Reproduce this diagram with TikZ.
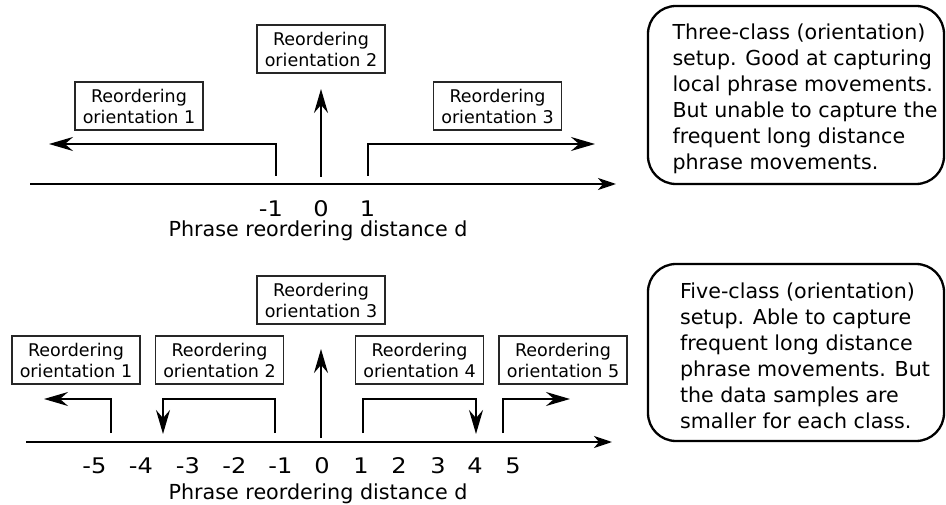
\documentclass[tikz,border=0pt]{standalone}
\usepackage{fontspec}
\setmainfont{DejaVu Sans}
\newfontfamily\axisnumfont[FakeStretch=1.12]{DejaVu Sans}
\usetikzlibrary{arrows.meta}
\begin{document}
\begin{tikzpicture}[x=1pt,y=-1pt,
  lbl/.style={draw=black!85,line width=1.3pt,minimum width=128pt,minimum height=48pt,
    inner sep=0pt,align=center,font=\fontsize{17.5}{21}\selectfont},
  notebox/.style={draw=black,line width=2.3pt,rounded corners=28pt,minimum width=296pt},
  notetext/.style={inner sep=0pt,align=left,font=\fontsize{20.6}{26}\selectfont},
  conn/.style={line width=1.7pt,-{Stealth[length=24pt,width=14pt,inset=8pt]}},
  axisline/.style={line width=2pt,-{Stealth[length=18pt,width=12pt,inset=5pt]}},
  num/.style={inner sep=0pt,font=\axisnumfont\fontsize{21.5}{24}\selectfont},
  caption/.style={anchor=base,inner sep=0pt,font=\fontsize{20.7}{24}\selectfont}]
\useasboundingbox (0,0) rectangle (946,505);

% ---------- three-class setup ----------
\node[lbl] (a1) at (139,106) {Reordering\\orientation 1};
\node[lbl] (a2) at (321,49) {Reordering\\orientation 2};
\node[lbl] (a3) at (497.5,106) {Reordering\\orientation 3};
\node[notebox,minimum height=178pt] (na) at (796,95) {};
\node[notetext] (nat) at (805,98.5)
  {Three-class (orientation)\\setup. Good at capturing\\local phrase movements.\\But unable to capture the\\frequent long distance\\phrase movements.};

\coordinate (xa0) at (30,184);
\coordinate (xa1) at (616,184);
\draw[axisline] (xa0) -- (xa1);

\coordinate (pa1) at (276,176); \coordinate (qa1) at (49,144);
\coordinate (pa2) at (321,177); \coordinate (qa2) at (321,89);
\coordinate (pa3) at (368,176); \coordinate (qa3) at (595,144);
\draw[conn] (pa1) |- (qa1);
\draw[conn] (pa2) -- (qa2);
\draw[conn] (pa3) |- (qa3);

\node[num] (ta1) at (271,209) {-1};
\node[num] (ta2) at (321,209) {0};
\node[num] (ta3) at (367.5,209) {1};
\node[caption] (ca) at (318,236.5) {Phrase reordering distance d};

% ---------- five-class setup ----------
\node[lbl] (b1) at (76,360) {Reordering\\orientation 1};
\node[lbl] (b2) at (219.5,360) {Reordering\\orientation 2};
\node[lbl] (b3) at (321,300) {Reordering\\orientation 3};
\node[lbl] (b4) at (419.5,360) {Reordering\\orientation 4};
\node[lbl] (b5) at (563,360) {Reordering\\orientation 5};
\node[notebox,minimum height=177pt] (nb) at (796,352.5) {};
\node[notetext] (nbt) at (805,356)
  {Five-class (orientation)\\setup. Able to capture\\frequent long distance\\phrase movements. But\\the data samples are\\smaller for each class.};

\coordinate (xb0) at (26,442);
\coordinate (xb1) at (612,442);
\draw[axisline] (xb0) -- (xb1);

\coordinate (kb) at (0,399);
\coordinate (pb1) at (111,433); \coordinate (qb1) at (44,399);
\coordinate (pb2) at (275,433); \coordinate (qb2) at (163,434);
\coordinate (pb3) at (321,438); \coordinate (qb3) at (321,349);
\coordinate (pb4) at (363,433); \coordinate (qb4) at (476,434);
\coordinate (pb5) at (503,433); \coordinate (qb5) at (570,399);
\draw[conn] (pb1) |- (qb1);
\draw[conn] (pb2) -- (pb2 |- kb) -| (qb2);
\draw[conn] (pb3) -- (qb3);
\draw[conn] (pb4) -- (pb4 |- kb) -| (qb4);
\draw[conn] (pb5) |- (qb5);

\foreach \v/\x in {-5/94.5,-4/141,-3/188,-2/234.5,-1/280.5,0/322,1/361,2/399,3/438,4/475,5/513}
  \node[num] (tb\v) at (\x,465.5) {\v};
\node[caption] (cb) at (318,499) {Phrase reordering distance d};
\end{tikzpicture}
\end{document}
